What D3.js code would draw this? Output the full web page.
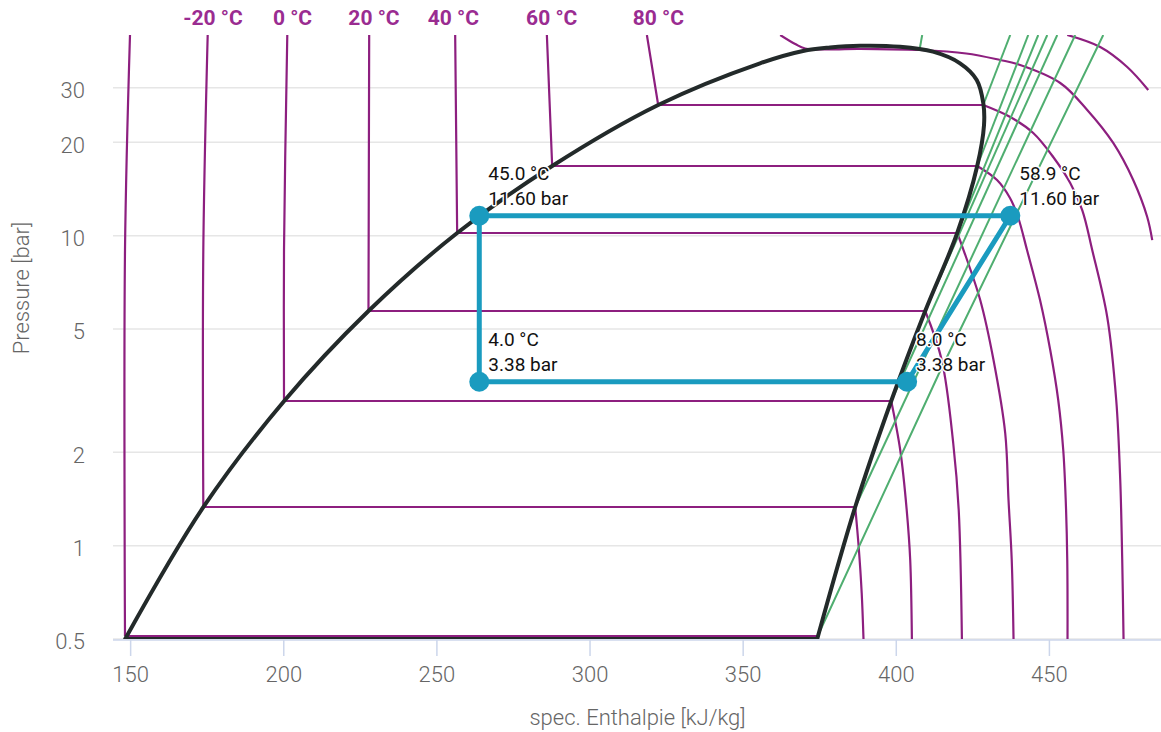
<!DOCTYPE html>
<html>
<head>
<meta charset="utf-8">
<script src="https://cdn.jsdelivr.net/npm/d3@7"></script>
<style>
  html, body { margin: 0; padding: 0; background: #fff; }
  svg { display: block; font-family: Roboto, "Noto Sans", sans-serif; }
</style>
</head>
<body>
<svg id="chart" width="1161" height="732"></svg>
<script>
// ---------- axis ticks ----------
const hTicks = [150, 200, 250, 300, 350, 400, 450];
const pTicks = [0.5, 1, 2, 5, 10, 20, 30];

// ---------- saturation dome [h kJ/kg, p bar] ----------
const saturation = [
  [148.37, 0.5], [173.94, 1.333], [200.29, 2.929], [227.82, 5.715], [256.78, 10.2],
  [287.8, 16.78], [322.42, 26.4], [355.67, 35.98], [369.71, 39.43], [378.52, 40.46],
  [388.33, 41.0], [401.39, 40.69], [412.16, 39.22], [420.98, 35.98], [426.43, 31.8],
  [428.58, 26.73], [428.81, 22.75], [426.59, 16.78], [420.06, 10.2], [409.61, 5.715],
  [398.51, 2.929], [386.75, 1.333], [374.34, 0.5]
];

// ---------- isotherms: liquid part (ends at bubble point), vapour part (starts at dew point) ----------
const isoM40Liquid = [[149.95, 44.4], [148.32, 8.99], [148.32, 0.511]];
const isoM40Vapour = [[374.34, 0.511]];
const isoM20Liquid = [[175.32, 44.4], [173.89, 8.99], [173.89, 1.333]];
const isoM20Vapour = [[386.75, 1.333], [387.89, 0.99], [388.87, 0.7037], [389.46, 0.5]];
const iso0Liquid = [[201.31, 44.4], [200.24, 8.99], [200.24, 2.929]];
const iso0Vapour = [[398.51, 2.929], [401.45, 2.035], [403.57, 1.303], [404.71, 0.899], [405.26, 0.5]];
const iso20Liquid = [[228.05, 44.4], [227.82, 5.715]];
const iso20Vapour = [[409.61, 5.715], [415.0, 3.972], [418.75, 2.144], [420.55, 1.303], [421.59, 0.5]];
const iso40Liquid = [[256.13, 44.4], [256.78, 10.2]];
const iso40Vapour = [[420.06, 10.2], [422.12, 8.99], [427.57, 6.2], [431.91, 3.972], [435.73, 2.309],
                     [436.81, 1.404], [437.86, 0.899], [438.45, 0.5]];
const iso60Liquid = [[286.07, 44.4], [287.8, 16.78]];
const iso60Vapour = [[426.59, 16.78], [433.06, 15.12], [437.29, 13.23], [439.91, 11.49], [442.85, 8.99],
                     [447.1, 6.2], [450.43, 4.277], [453.04, 2.951], [454.68, 2.035], [455.49, 1.404],
                     [455.99, 0.899], [456.08, 0.5]];
const iso80Liquid = [[318.73, 44.4], [322.42, 26.4]];
const iso80Vapour = [[428.55, 26.4], [437.37, 24.15], [444.88, 21.45], [451.41, 17.94], [456.96, 14.79],
                     [460.88, 12.1], [464.14, 8.99], [469.04, 5.466], [471.98, 2.951], [473.29, 1.628],
                     [473.94, 0.899], [474.37, 0.5]];
const iso100 = [[362.26, 44.4], [367.16, 41.52], [370.42, 40.17], [388.38, 40.02], [407.97, 39.72],
                [423.0, 38.7], [434.1, 36.88], [439.65, 35.8], [453.7, 31.09], [462.51, 25.44],
                [471.0, 19.91], [477.53, 15.12], [482.1, 11.49], [483.74, 9.68]];
const iso120 = [[455.99, 44.4], [466.76, 40.6], [475.57, 35.0], [482.43, 29.51]];

// isotherm labels at the top
const isoLabelText = ["-20 °C", "0 °C", "20 °C", "40 °C", "60 °C", "80 °C"];
const isoLabelH = [177.05, 203.01, 229.62, 255.52, 287.65, 322.46];

// ---------- isentropes ----------
const isen1 = [[374.34, 0.5075], [414.18, 3.607], [467.74, 44.4]];
const isen2 = [[386.75, 1.333], [458.59, 44.4]];
const isen3 = [[398.51, 2.929], [452.72, 44.4]];
const isen4 = [[409.61, 5.715], [449.45, 44.4]];
const isen5 = [[420.06, 10.2], [446.51, 44.4]];
const isen6 = [[426.59, 16.78], [443.25, 44.4]];
const isen7 = [[428.55, 26.4], [437.37, 44.4]];
const isen8 = [[407.74, 39.72], [408.63, 44.4]];

// ---------- refrigeration cycle ----------
const cycleH = [264.0, 403.7, 437.4, 264.0];
const cycleP = [3.38, 3.38, 11.6, 11.6];
const cycleT = ["4.0 °C", "8.0 °C", "58.9 °C", "45.0 °C"];

// ---------- chart ----------
const plot = { left: 113, right: 1161, top: 35, bottom: 639 };
const svg = d3.select("#chart");

const x = d3.scaleLinear().domain([144.4, 486.6]).range([plot.left, plot.right]);
const y = d3.scaleLog().domain([0.5, 44.4]).range([plot.bottom, plot.top]);

svg.append("defs").append("clipPath").attr("id", "clip")
  .append("rect").attr("x", plot.left).attr("y", plot.top)
  .attr("width", plot.right - plot.left).attr("height", plot.bottom - plot.top);

// grid lines
svg.append("g").selectAll("line").data(pTicks).join("line")
  .attr("x1", plot.left).attr("x2", plot.right)
  .attr("y1", d => y(d)).attr("y2", d => y(d))
  .attr("stroke", "#e6e6e6").attr("stroke-width", 1.5);

// x axis
const xAxis = d3.axisBottom(x).tickValues(hTicks).tickSize(16).tickPadding(10).tickFormat(d3.format("d"));
const gx = svg.append("g").attr("transform", `translate(0,${plot.bottom + 1})`).call(xAxis);
gx.select(".domain").remove();
gx.append("line").attr("x1", plot.left).attr("x2", plot.right).attr("y1", 0).attr("y2", 0)
  .attr("stroke", "#ccd6eb").attr("stroke-width", 1.5);
gx.selectAll(".tick line").attr("stroke", "#ccd6eb").attr("stroke-width", 1.5);
gx.selectAll(".tick text").attr("fill", "#666").attr("font-size", 22).attr("font-weight", 300)
  .attr("font-family", "Roboto, sans-serif").attr("dy", "0.71em");

// y axis
const yAxis = d3.axisLeft(y).tickValues(pTicks).tickSize(0).tickPadding(28).tickFormat(d => String(d));
const gy = svg.append("g").attr("transform", `translate(${plot.left},0)`).call(yAxis);
gy.select(".domain").remove();
gy.selectAll(".tick text").attr("fill", "#666").attr("font-size", 22).attr("font-weight", 300)
  .attr("font-family", "Roboto, sans-serif").attr("dy", "0.45em");

// axis titles
svg.append("text").attr("x", (plot.left + plot.right) / 2 + 0.5).attr("y", 725)
  .attr("text-anchor", "middle").attr("fill", "#666").attr("font-size", 22).attr("font-weight", 300)
  .text("spec. Enthalpie [kJ/kg]");
svg.append("text").attr("transform", "translate(29,288) rotate(-90)")
  .attr("text-anchor", "middle").attr("fill", "#666").attr("font-size", 22).attr("font-weight", 300)
  .text("Pressure [bar]");

const lin = d3.line().x(d => x(d[0])).y(d => y(d[1]));
const smooth = d3.line().x(d => x(d[0])).y(d => y(d[1])).curve(d3.curveCatmullRom.alpha(0.5));

const g = svg.append("g").attr("clip-path", "url(#clip)");

// isotherms
const PURPLE = "#8d1f7f";
const isotherms = [
  [isoM40Liquid, isoM40Vapour], [isoM20Liquid, isoM20Vapour], [iso0Liquid, iso0Vapour],
  [iso20Liquid, iso20Vapour], [iso40Liquid, iso40Vapour], [iso60Liquid, iso60Vapour],
  [iso80Liquid, iso80Vapour]
];
g.append("g").selectAll("path").data(isotherms).join("path")
  .attr("d", ([liq, vap]) =>
    smooth(liq) + lin([liq[liq.length - 1], vap[0]]) + (vap.length > 1 ? smooth(vap) : ""))
  .attr("fill", "none").attr("stroke", PURPLE).attr("stroke-width", 2.2).attr("stroke-linejoin", "round");
g.append("g").selectAll("path").data([iso100, iso120]).join("path")
  .attr("d", d => smooth(d))
  .attr("fill", "none").attr("stroke", PURPLE).attr("stroke-width", 2.2);

// isentropes
g.append("g").selectAll("path").data([isen1, isen2, isen3, isen4, isen5, isen6, isen7, isen8]).join("path")
  .attr("d", d => lin(d))
  .attr("fill", "none").attr("stroke", "#4fae70").attr("stroke-width", 2);

// saturation dome
g.append("path").attr("d", smooth(saturation) + "Z")
  .attr("fill", "none").attr("stroke", "#232a2a").attr("stroke-width", 4).attr("stroke-linejoin", "round");

// cycle
const BLUE = "#1a9bbf";
const cyc = cycleH.map((h, i) => [h, cycleP[i]]);
svg.append("path").attr("d", lin(cyc) + "Z")
  .attr("fill", "none").attr("stroke", BLUE).attr("stroke-width", 5).attr("stroke-linejoin", "round");
svg.append("g").selectAll("circle").data(cyc).join("circle")
  .attr("cx", d => x(d[0])).attr("cy", d => y(d[1])).attr("r", 10).attr("fill", BLUE);

// cycle labels
const lab = svg.append("g").attr("font-size", 19).attr("fill", "#111")
  .attr("stroke", "#fff").attr("stroke-width", 3).attr("paint-order", "stroke").attr("stroke-linejoin", "round");
cyc.forEach((d, i) => {
  const px = x(d[0]) + 9, py = y(d[1]);
  lab.append("text").attr("x", px).attr("y", py - 36).text(cycleT[i]);
  lab.append("text").attr("x", px).attr("y", py - 11).text(d3.format(".2f")(cycleP[i]) + " bar");
});

// isotherm labels
svg.append("g").selectAll("text").data(isoLabelText).join("text")
  .attr("x", (d, i) => x(isoLabelH[i])).attr("y", 25)
  .attr("text-anchor", "middle").attr("font-size", 21).attr("font-weight", 700)
  .attr("fill", "#9a2c91").text(d => d);
</script>
</body>
</html>
